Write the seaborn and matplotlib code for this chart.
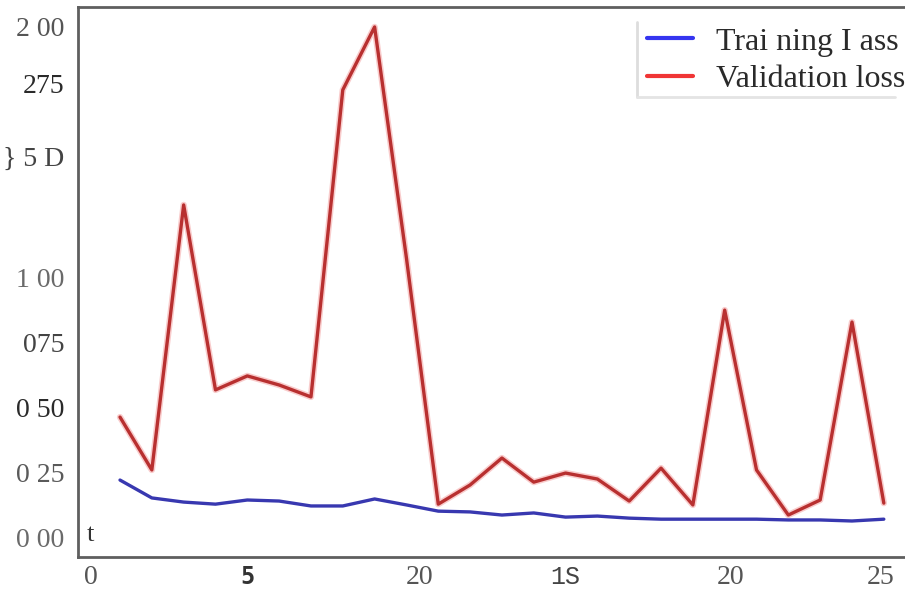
import numpy as np
import pandas as pd
import seaborn as sns
import matplotlib
matplotlib.use("Agg")
import matplotlib.pyplot as plt
from matplotlib.lines import Line2D

# Per-epoch losses
epochs = list(range(1, 26))
train_loss = [0.220, 0.151, 0.135, 0.127, 0.143, 0.139, 0.120, 0.120, 0.147, 0.124,
              0.100, 0.097, 0.085, 0.093, 0.077, 0.081, 0.073, 0.069, 0.069, 0.069,
              0.069, 0.066, 0.066, 0.062, 0.069]
val_loss = [0.463, 0.259, 1.282, 0.568, 0.622, 0.587, 0.541, 1.726, 1.969, 1.077,
            0.127, 0.201, 0.305, 0.212, 0.247, 0.224, 0.139, 0.266, 0.124, 0.876,
            0.259, 0.085, 0.143, 0.830, 0.131]

series_names = ["Trai ning I ass", "Validation loss"]

# Axis tick positions and their printed labels
x_ticks = [0.1, 5, 10.4, 15, 20.2, 24.9]
x_tick_labels = ["0", "5", "20", "1S", "20", "25"]
y_ticks = [0.0, 0.25, 0.50, 0.75, 1.0, 1.47, 1.75, 1.97]
y_tick_labels = ["0 00", "0 25", "0 50", "075", "1 00", "} 5 D", "275", "2 00"]
y_tick_colors = ["#6a6a6a", "#5a5a5a", "#2a2a2a", "#444444", "#6a6a6a", "#444444", "#2a2a2a", "#555555"]

df = pd.DataFrame({
    "epoch": epochs * 2,
    "loss": train_loss + val_loss,
    "series": [series_names[0]] * len(epochs) + [series_names[1]] * len(epochs),
})

sns.set_style("white")
plt.rcParams["font.family"] = ["Liberation Serif", "DejaVu Serif"]

fig = plt.figure(figsize=(9.05, 5.94), dpi=100)
ax = fig.add_axes([78 / 905, 37 / 594, 1 - 78 / 905 + 0.01, 550 / 594])

# soft halo under the validation curve
ax.plot(epochs, val_loss, color="#f08080", lw=4.6, alpha=0.4, zorder=2)
sns.lineplot(data=df, x="epoch", y="loss", hue="series",
             palette={series_names[0]: "#3838b0", series_names[1]: "#b83030"},
             linewidth=2.4, ax=ax, legend=False, zorder=3)

ax.set_xlim(-0.32, 25.95)
ax.set_ylim(-0.077, 2.046)
ax.set_xlabel("")
ax.set_ylabel("")

ax.set_xticks(x_ticks)
ax.set_xticklabels(x_tick_labels, fontsize=20, color="#555555")
ax.set_yticks(y_ticks)
ax.set_yticklabels(y_tick_labels, fontsize=20)
for lab, c in zip(ax.get_yticklabels(), y_tick_colors):
    lab.set_color(c)
ax.tick_params(axis="both", length=0)
ax.tick_params(axis="x", pad=6)
ax.tick_params(axis="y", pad=10)

# odd glyphs among the x labels
xl = ax.get_xticklabels()
xl[1].set_fontfamily(["DejaVu Sans Mono"])
xl[1].set_fontweight("bold")
xl[1].set_fontsize(17)
xl[1].set_color("#333333")
xl[3].set_fontfamily(["Liberation Mono"])
xl[3].set_fontsize(18)
xl[3].set_color("#444444")

for side in ["left", "bottom", "top"]:
    ax.spines[side].set_color("#5f5f5f")
    ax.spines[side].set_linewidth(2.0)
ax.spines["right"].set_visible(False)

ax.text(0.010, 0.04, "t", transform=ax.transAxes, fontsize=19, color="#333333",
        va="center", ha="left")

handles = [Line2D([], [], color="#3535f0", lw=3),
           Line2D([], [], color="#f03535", lw=3)]
leg = ax.legend(handles, series_names, loc="upper right", bbox_to_anchor=(1.012, 0.998),
                frameon=False, fontsize=23, handlelength=1.45, handletextpad=0.7,
                labelspacing=0.25, borderaxespad=0.2)
for t in leg.get_texts():
    t.set_color("#2a2a2a")

# faint legend frame edges
fig.add_artist(Line2D([637 / 905, 637 / 905], [1 - 22 / 594, 1 - 97 / 594],
                      color="#dddddd", lw=2, transform=fig.transFigure))
fig.add_artist(Line2D([637 / 905, 895 / 905], [1 - 97 / 594, 1 - 97 / 594],
                      color="#e4e4e4", lw=2, transform=fig.transFigure))

fig.savefig("out.png", dpi=100)
